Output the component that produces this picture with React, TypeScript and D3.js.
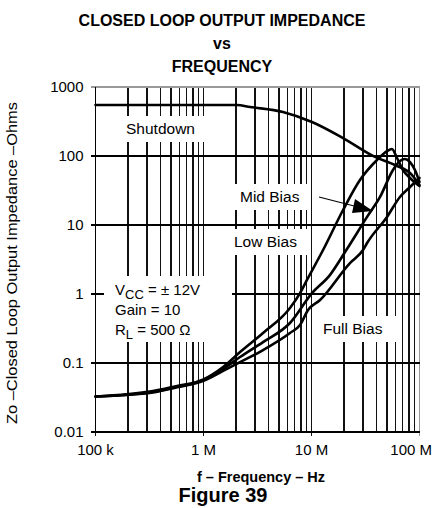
import React from "react";
import * as d3 from "d3";

const freqShutdown = [1e5, 2.04e6, 2.7e6, 5.44e6, 10.1e6, 19.6e6, 38.7e6, 59.3e6, 85.3e6, 1e8];
const zShutdown = [548, 548, 513, 434, 311, 182, 97, 74, 53, 38];

const freqLow = [1e5, 3.4e5, 5.7e5, 1e6, 1.52e6, 2.18e6, 3.56e6, 6.32e6, 7.83e6, 9.29e6, 12.8e6, 19.6e6, 28.1e6, 40.4e6, 50e6, 55.6e6, 61.9e6, 70.3e6, 81.7e6, 1e8];
const zLow = [0.0327, 0.0393, 0.0465, 0.058, 0.0876, 0.144, 0.272, 0.627, 1.03, 1.71, 4.34, 16.5, 44.9, 87.5, 118, 126, 93.5, 62.7, 48, 36.7];

const freqMid = [1e5, 3.4e5, 5.7e5, 1e6, 1.52e6, 2.18e6, 3.56e6, 6.32e6, 10.1e6, 14.8e6, 21.3e6, 32.7e6, 43.1e6, 56.8e6, 65.9e6, 73.4e6, 81.7e6, 90.8e6, 1e8];
const zMid = [0.0327, 0.038, 0.0455, 0.0565, 0.082, 0.122, 0.201, 0.38, 1.03, 1.88, 4.49, 13.1, 25.5, 62.7, 84.7, 90.6, 81.8, 62.7, 42];

const freqFull = [1e5, 3.4e5, 5.7e5, 1e6, 1.52e6, 2.18e6, 3.56e6, 6.32e6, 7.83e6, 9.29e6, 12e6, 22.7e6, 30e6, 32.7e6, 50e6, 65.9e6, 81.7e6, 1e8];
const zFull = [0.0327, 0.0374, 0.0445, 0.055, 0.077, 0.103, 0.154, 0.272, 0.356, 0.586, 0.818, 2.81, 4.34, 5.48, 13.1, 25.5, 35.6, 48];

const xTickValues = [1e5, 1e6, 1e7, 1e8];
const xTickLabels = ["100 k", "1 M", "10 M", "100 M"];
const yTickValues = [0.01, 0.1, 1, 10, 100, 1000];
const yTickLabels = ["0.01", "0.1", "1", "10", "100", "1000"];

const FONT = "Liberation Sans, Arial, Helvetica, sans-serif";

export default function App() {
  const x = d3.scaleLog().domain([1e5, 1e8]).range([95.5, 419.5]);
  const y = d3.scaleLog().domain([0.01, 1000]).range([432, 87]);

  const minorX: number[] = [];
  for (let e = 5; e < 8; e++) for (let k = 1; k < 10; k++) minorX.push(k * Math.pow(10, e));

  const line = d3
    .line<[number, number]>()
    .x((d) => x(d[0]))
    .y((d) => y(d[1]))
    .curve(d3.curveMonotoneX);

  const series = [
    { f: freqShutdown, z: zShutdown },
    { f: freqLow, z: zLow },
    { f: freqMid, z: zMid },
    { f: freqFull, z: zFull },
  ];

  const [x0, x1] = x.range();
  const [yb, yt] = y.range();

  const whiteBoxes = [
    { x: 116, y: 116, w: 90, h: 26 },
    { x: 233, y: 184, w: 78, h: 26 },
    { x: 228, y: 229, w: 80, h: 26 },
    { x: 104, y: 276, w: 128, h: 66 },
    { x: 318, y: 316, w: 78, h: 26 },
  ];

  return (
    <svg width={440} height={508} style={{ position: "absolute", left: 0, top: 0, background: "#fff" }} fontFamily={FONT}>
      <rect x={0} y={0} width={440} height={508} fill="#fff" />
      {/* title */}
      <g fontWeight="bold" fontSize={16} textAnchor="middle" fill="#000">
        <text x={222} y={26}>CLOSED LOOP OUTPUT IMPEDANCE</text>
        <text x={222} y={49}>vs</text>
        <text x={222} y={72}>FREQUENCY</text>
      </g>
      {/* grid */}
      <g shapeRendering="crispEdges">
        {minorX.map((v, i) => (
          <line key={"vx" + i} x1={x(v)} x2={x(v)} y1={yt} y2={yb + (i % 9 === 0 ? 4 : 0)} stroke="#111" strokeWidth={1.2} />
        ))}
        <line x1={x1} x2={x1} y1={yt} y2={yb + 4} stroke="#999" strokeWidth={1.6} />
        {yTickValues.map((v, i) => (
          <line key={"hy" + i} x1={x0 - 5} x2={x1} y1={y(v)} y2={y(v)} stroke={i === yTickValues.length - 1 ? "#999" : "#000"} strokeWidth={1.2} />
        ))}
        <line x1={x0} x2={x0} y1={yt} y2={yb} stroke="#000" strokeWidth={1.4} />
        <line x1={x0 - 5} x2={x1} y1={yb} y2={yb} stroke="#000" strokeWidth={1.4} />
      </g>
      {/* white label boxes */}
      {whiteBoxes.map((b, i) => (
        <rect key={"wb" + i} x={b.x} y={b.y} width={b.w} height={b.h} fill="#fff" />
      ))}
      {/* curves */}
      {series.map((s, i) => (
        <path
          key={"s" + i}
          d={line(s.f.map((f, j) => [f, s.z[j]] as [number, number])) || ""}
          fill="none"
          stroke="#000"
          strokeWidth={2.6}
          strokeLinejoin="round"
          strokeLinecap="round"
        />
      ))}
      {/* arrow */}
      <line x1={319} y1={197} x2={360} y2={207.5} stroke="#000" strokeWidth={1.2} />
      <path d="M373,211 L355,199 L352,213 Z" fill="#000" />
      {/* labels */}
      <g fontSize={15.5} fill="#000">
        <text x={126} y={134}>Shutdown</text>
        <text x={240} y={202}>Mid Bias</text>
        <text x={234} y={247}>Low Bias</text>
        <text x={323} y={334}>Full Bias</text>
      </g>
      <g fontSize={15} fill="#000">
        <text x={115} y={295}>
          V<tspan fontSize={13} dy={4}>CC</tspan>
          <tspan dy={-4}> = ± 12V</tspan>
        </text>
        <text x={115} y={315}>Gain = 10</text>
        <text x={115} y={335}>
          R<tspan fontSize={13} dy={4}>L</tspan>
          <tspan dy={-4}> = 500 Ω</tspan>
        </text>
      </g>
      {/* axis tick labels */}
      <g fontSize={15} fill="#000">
        {yTickValues.map((v, i) => (
          <text key={"yl" + i} x={x0 - 12} y={y(v) + 5} textAnchor="end">
            {yTickLabels[i]}
          </text>
        ))}
        {xTickValues.map((v, i) => (
          <text key={"xl" + i} x={i === 3 ? 432 : x(v)} y={455} textAnchor={i === 3 ? "end" : "middle"}>
            {xTickLabels[i]}
          </text>
        ))}
      </g>
      <text x={261} y={482} textAnchor="middle" fontWeight="bold" fontSize={14.5}>
        f – Frequency – Hz
      </text>
      <text x={223} y={502} textAnchor="middle" fontWeight="bold" fontSize={20}>
        Figure 39
      </text>
      <text transform="translate(17,263) rotate(-90)" textAnchor="middle" fontSize={15} textLength={322} lengthAdjust="spacingAndGlyphs">
        Zo –Closed Loop Output Impedance –Ohms
      </text>
    </svg>
  );
}
